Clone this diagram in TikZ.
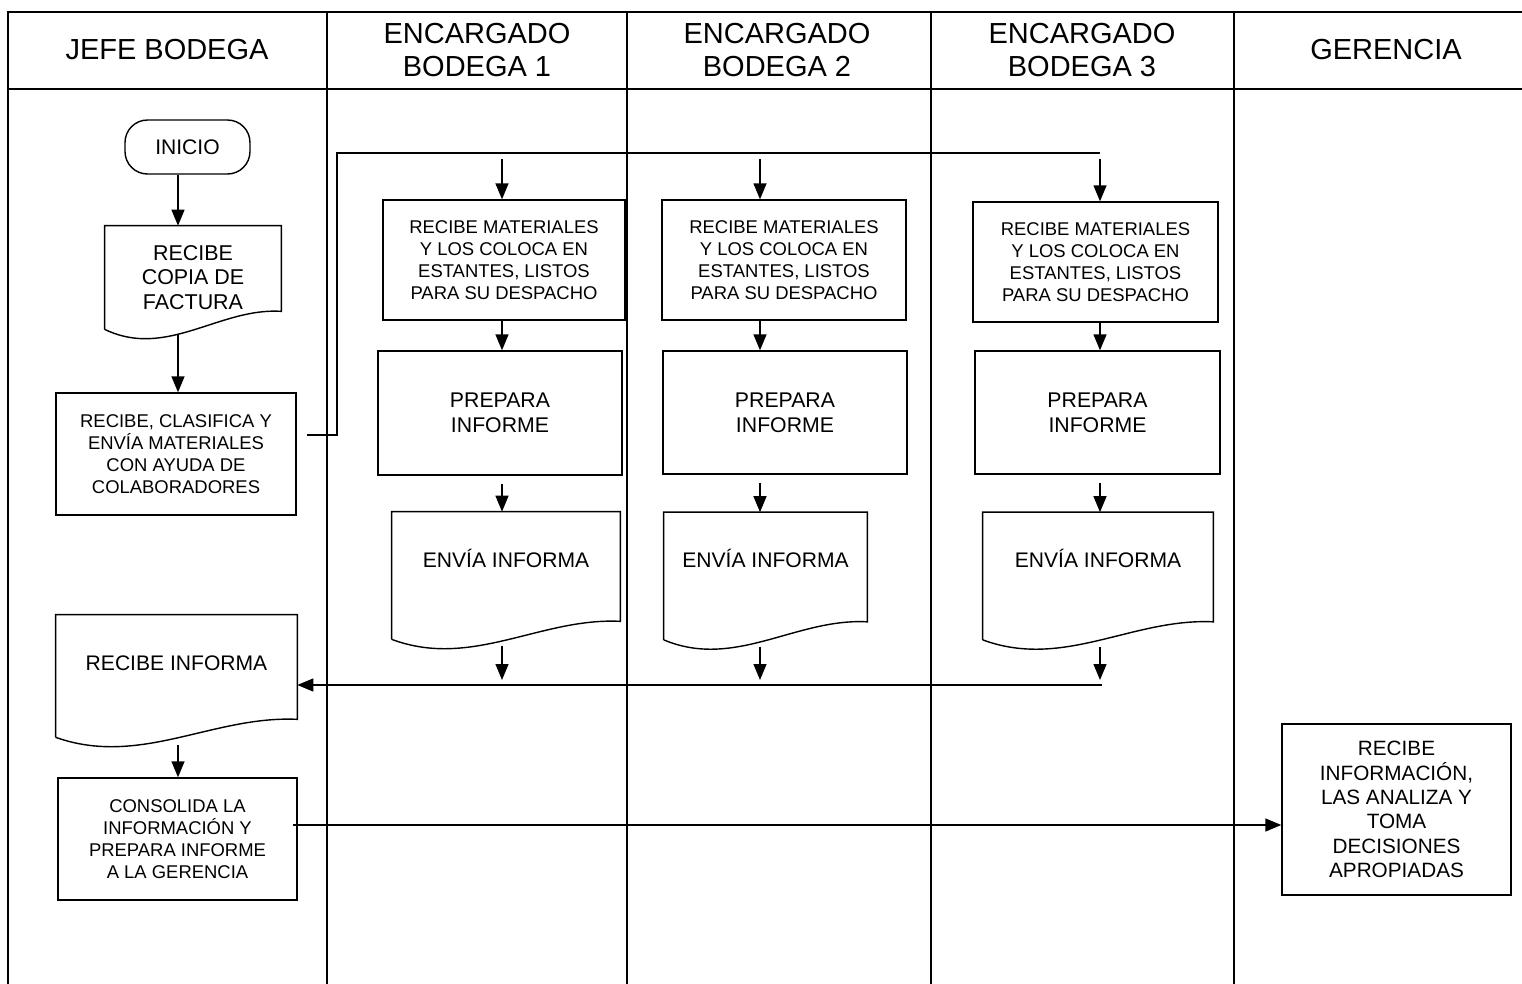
\documentclass[tikz,border=0pt]{standalone}
\usepackage{fontspec}
\setmainfont{Liberation Sans}
\usetikzlibrary{arrows.meta,calc,positioning}
\tikzset{
	lane/.style={line width=0.6pt},
	lanehead/.style={font=\fontsize{16.5}{19.3}\selectfont, align=center},
	procbox/.style={draw, line width=0.8pt, align=center, inner sep=0pt},
	docbox/.style={align=center, inner sep=0pt},
	startbox/.style={draw, line width=0.8pt, rounded corners=0.45cm, align=center, inner sep=0pt},
	smalltxt/.style={font=\fontsize{10.5}{12.5}\selectfont},
	bigtxt/.style={font=\fontsize{12}{14}\selectfont},
	arr/.style={-{Triangle[length=0.32cm,width=0.26cm]}, line width=0.8pt},
	link/.style={line width=0.8pt}
}
% document symbol drawn round a named node
\newcommand{\docwave}[1]{
	\draw[line width=0.8pt] (#1.south west) -- (#1.north west) -- (#1.north east) -- ($(#1.south east)+(0,-18)$)
		.. controls ($(#1.south west)!0.65!(#1.south east)+(0,-22)$) and ($(#1.south west)!0.35!(#1.south east)+(0,30)$) .. (#1.south west);
}

\begin{document}
\begin{tikzpicture}[x=0.02cm, y=-0.02cm]
	\useasboundingbox (0,0) rectangle (1522,984);
	% swimlanes
	\draw[lane] (1522,12) -- (8,12) -- (8,984);
	\draw[lane] (8,89) -- (1522,89);
	\foreach \x in {327,627,931,1234}
		\draw[lane] (\x,12) -- (\x,984);
	\node[lanehead] (hjefe) at (167,50) {JEFE BODEGA};
	\node[lanehead] (henc1) at (477,50) {ENCARGADO\\BODEGA 1};
	\node[lanehead] (henc2) at (777,50) {ENCARGADO\\BODEGA 2};
	\node[lanehead] (henc3) at (1082,50) {ENCARGADO\\BODEGA 3};
	\node[lanehead] (hger) at (1386,50) {GERENCIA};

	% jefe bodega
	\node[startbox, bigtxt, minimum width=2.5cm, minimum height=1.08cm] (inicio) at (187.5,147) {INICIO};
	\node[docbox, font=\fontsize{12.2}{13.9}\selectfont, minimum width=3.52cm, minimum height=2.06cm] (factura) at (193,277.5) {RECIBE\\COPIA DE\\FACTURA};
	\docwave{factura}
	\node[procbox, smalltxt, minimum width=4.8cm, minimum height=2.44cm] (clasifica) at (176,454) {RECIBE, CLASIFICA Y\\ENVÍA MATERIALES\\CON AYUDA DE\\COLABORADORES};
	\node[docbox, bigtxt, minimum width=4.82cm, text height=1.1cm, text depth=1.34cm] (recinf) at (176.5,676) {RECIBE INFORMA};
	\docwave{recinf}
	\node[procbox, smalltxt, minimum width=4.78cm, minimum height=2.44cm] (consol) at (177.5,839) {CONSOLIDA LA\\INFORMACIÓN Y\\PREPARA INFORME\\A LA GERENCIA};

	% encargados
	\node[procbox, smalltxt, minimum width=4.84cm, minimum height=2.4cm] (mat1) at (504,260) {RECIBE MATERIALES\\Y LOS COLOCA EN\\ESTANTES, LISTOS\\PARA SU DESPACHO};
	\node[procbox, smalltxt, minimum width=4.88cm, minimum height=2.4cm] (mat2) at (784,260) {RECIBE MATERIALES\\Y LOS COLOCA EN\\ESTANTES, LISTOS\\PARA SU DESPACHO};
	\node[procbox, smalltxt, minimum width=4.9cm, minimum height=2.4cm] (mat3) at (1095.5,262) {RECIBE MATERIALES\\Y LOS COLOCA EN\\ESTANTES, LISTOS\\PARA SU DESPACHO};
	\node[procbox, font=\fontsize{12.1}{14.2}\selectfont, minimum width=4.88cm, minimum height=2.48cm] (prep1) at (500,413) {PREPARA\\INFORME};
	\node[procbox, font=\fontsize{12.1}{14.2}\selectfont, minimum width=4.88cm, minimum height=2.46cm] (prep2) at (785,412.5) {PREPARA\\INFORME};
	\node[procbox, font=\fontsize{12.1}{14.2}\selectfont, minimum width=4.9cm, minimum height=2.46cm] (prep3) at (1097.5,412.5) {PREPARA\\INFORME};
	\node[docbox, bigtxt, minimum width=4.56cm, text height=1.1cm, text depth=1.44cm] (env1) at (506,575.5) {ENVÍA INFORMA};
	\node[docbox, bigtxt, minimum width=4.06cm, text height=1.1cm, text depth=1.44cm] (env2) at (765.5,576) {ENVÍA INFORMA};
	\node[docbox, bigtxt, minimum width=4.6cm, text height=1.1cm, text depth=1.44cm] (env3) at (1098,576) {ENVÍA INFORMA};
	\docwave{env1}
	\docwave{env2}
	\docwave{env3}

	% gerencia
	\node[procbox, font=\fontsize{11.8}{13.9}\selectfont, minimum width=4.58cm, minimum height=3.42cm] (geren) at (1396.5,809.5) {RECIBE\\INFORMACIÓN,\\LAS ANALIZA Y\\TOMA\\DECISIONES\\APROPIADAS};

	% connectors
	\coordinate (jx) at (178,0);
	\coordinate (c1) at (502,0);
	\coordinate (c2) at (760,0);
	\coordinate (c3) at (1100,0);
	\coordinate (cs) at (307,435);
	\coordinate (bus) at (337,153);
	\coordinate (busend) at (1100,153);
	\coordinate (ret) at (1102,685);
	\coordinate (gl) at (293,825);

	\draw[arr] (inicio.south -| jx) -- (factura.north -| jx);
	\draw[arr] ($(factura.south -| jx)+(0,5)$) -- (clasifica.north -| jx);
	\draw[link] (cs) -| (bus) -- (busend);
	\foreach \c/\n in {c1/1,c2/2,c3/3}{
		\draw[arr] ($(bus -| \c)+(0,6)$) -- (mat\n.north -| \c);
		\draw[arr] (mat\n.south -| \c) -- (prep\n.north -| \c);
		\draw[arr] ($(prep\n.south -| \c)+(0,8)$) -- (env\n.north -| \c);
		\draw[arr] ($(env\n.south -| \c)+(0,7)$) -- ($(ret -| \c)+(0,-5)$);
	}
	\draw[arr] (ret) -- (recinf.east |- ret);
	\draw[arr] ($(recinf.south -| jx)+(0,8)$) -- (consol.north -| jx);
	\draw[arr] (gl) -- (gl -| geren.west);
\end{tikzpicture}
\end{document}
